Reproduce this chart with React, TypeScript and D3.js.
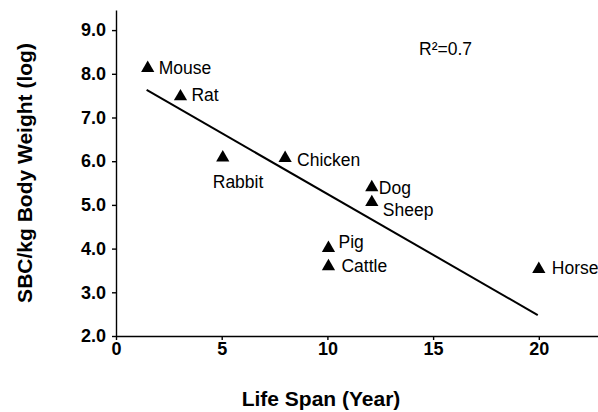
import React, { useEffect, useRef } from 'react'
import * as d3 from 'd3'

// species, life span (years) and SBC/kg body weight (log)
const animals = ['Mouse', 'Rat', 'Rabbit', 'Chicken', 'Dog', 'Sheep', 'Pig', 'Cattle', 'Horse']
const lifeSpan = [1.5, 3.05, 5.05, 8.0, 12.1, 12.1, 10.05, 10.05, 20.0]
const sbcLog = [8.13, 7.48, 6.08, 6.07, 5.4, 5.06, 4.01, 3.59, 3.53]

// fitted regression line endpoints
const fitX = [1.45, 19.95]
const fitY = [7.63, 2.48]

const xTicks = [0, 5, 10, 15, 20]
const yTicks = [2, 3, 4, 5, 6, 7, 8, 9]
const rSquared = 'R²=0.7'

const W = 598
const H = 412
const FONT = '"Liberation Sans", Arial, sans-serif'

// label placement relative to each marker
const labelOffset: Record<string, [number, number]> = {
  Mouse: [11, 6],
  Rat: [11, 4],
  Rabbit: [-10, 30],
  Chicken: [12, 8],
  Dog: [7, 7],
  Sheep: [11, 14],
  Pig: [10, 0],
  Cattle: [13, 5],
  Horse: [13, 5],
}

const App = () => {
  const ref = useRef<SVGSVGElement>(null)

  useEffect(() => {
    const svg = d3.select(ref.current)
    svg.selectAll('*').remove()

    const x = d3.scaleLinear().domain([0, 22.8]).range([116, 598])
    const y = d3.scaleLinear().domain([2, 9.46]).range([336, 10])

    const xAxis = svg.append('g')
      .attr('transform', `translate(0,${y(2)})`)
      .call(d3.axisBottom(x).tickValues(xTicks).tickSize(4).tickSizeOuter(0).tickPadding(2).tickFormat(d3.format('d')))
    const yAxis = svg.append('g')
      .attr('transform', `translate(${x(0)},0)`)
      .call(d3.axisLeft(y).tickValues(yTicks).tickSize(4).tickSizeOuter(0).tickPadding(6).tickFormat(d3.format('.1f')))

    for (const g of [xAxis, yAxis]) {
      g.selectAll('path, line').attr('stroke', '#000').attr('stroke-width', 1.4)
      g.selectAll('text')
        .attr('font-family', FONT)
        .attr('font-size', 18)
        .attr('font-weight', 'bold')
        .attr('fill', '#000')
    }

    // regression line
    const line = d3.line<number>().x((d) => x(fitX[d])).y((d) => y(fitY[d]))
    svg.append('path')
      .attr('d', line([0, 1]))
      .attr('fill', 'none')
      .attr('stroke', '#000')
      .attr('stroke-width', 2)

    const tri = d3.symbol().type(d3.symbolTriangle).size(76)
    animals.forEach((name, i) => {
      const cx = x(lifeSpan[i])
      const cy = y(sbcLog[i])
      svg.append('path')
        .attr('d', tri())
        .attr('transform', `translate(${cx},${cy})`)
        .attr('fill', '#000')
      const [dx, dy] = labelOffset[name]
      svg.append('text')
        .attr('x', cx + dx)
        .attr('y', cy + dy)
        .attr('font-family', FONT)
        .attr('font-size', 17.5)
        .attr('fill', '#000')
        .text(name)
    })

    svg.append('text')
      .attr('x', 419)
      .attr('y', 55)
      .attr('font-family', FONT)
      .attr('font-size', 17.5)
      .attr('fill', '#000')
      .text(rSquared)

    svg.append('text')
      .attr('x', 321)
      .attr('y', 406)
      .attr('text-anchor', 'middle')
      .attr('font-family', FONT)
      .attr('font-size', 21)
      .attr('font-weight', 'bold')
      .text('Life Span (Year)')

    svg.append('text')
      .attr('transform', 'translate(32,173) rotate(-90)')
      .attr('text-anchor', 'middle')
      .attr('font-family', FONT)
      .attr('font-size', 21)
      .attr('font-weight', 'bold')
      .text('SBC/kg Body Weight (log)')
  }, [])

  return (
    <svg
      ref={ref}
      width={W}
      height={H}
      style={{ position: 'absolute', left: 0, top: 0, background: '#fff', display: 'block' }}
    />
  )
}

export default App
